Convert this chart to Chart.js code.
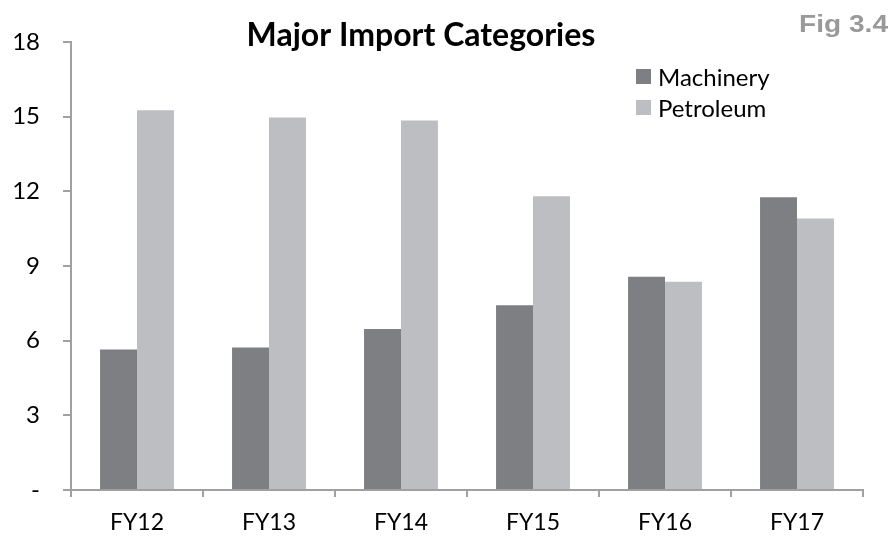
<!DOCTYPE html>
<html>
<head>
<meta charset="utf-8">
<script src="https://cdn.jsdelivr.net/npm/chart.js@4.4.0/dist/chart.umd.min.js"></script>
<style>
  html, body { margin: 0; padding: 0; background: #fff; }
  #wrap { width: 890px; height: 537px; }
</style>
</head>
<body>
<div id="wrap"><canvas id="myChart"></canvas></div>
<script>
const years = ["FY12", "FY13", "FY14", "FY15", "FY16", "FY17"];
const machinery = [5.65, 5.73, 6.47, 7.42, 8.57, 11.76];
const petroleum = [15.26, 14.97, 14.85, 11.8, 8.37, 10.91];
const yTicks = [0, 3, 6, 9, 12, 15, 18];

const FONT = "Lato, 'Open Sans', sans-serif";
const AXIS_GREY = "#a0a0a0";

// title, fig number and legend are painted on top of the chart
const overlay = {
  id: "overlay",
  afterDraw(chart) {
    const ctx = chart.ctx;
    ctx.save();
    ctx.fillStyle = "#000";
    ctx.font = "bold 32px " + FONT;
    ctx.textAlign = "center";
    ctx.textBaseline = "alphabetic";
    ctx.fillText("Major Import Categories", 421, 46);

    // fig number looks a bit stretched in the original
    ctx.save();
    ctx.fillStyle = "#999999";
    ctx.font = "bold 24px 'Liberation Sans', Arial, sans-serif";
    ctx.textAlign = "right";
    ctx.translate(888, 32);
    ctx.scale(1.17, 1);
    ctx.fillText("Fig 3.4", 0, 0);
    ctx.restore();

    ctx.textAlign = "left";
    ctx.font = "24px " + FONT;
    chart.data.datasets.forEach((ds, i) => {
      const y = 77 + i * 31;
      ctx.fillStyle = ds.backgroundColor;
      ctx.fillRect(636, y - 8, 15, 15);
      ctx.fillStyle = "#000";
      ctx.textBaseline = "middle";
      ctx.fillText(ds.label, 658, y + 1);
    });
    ctx.restore();
  },
};

new Chart(document.getElementById("myChart"), {
  type: "bar",
  data: {
    labels: years,
    datasets: [
      { label: "Machinery", data: machinery, backgroundColor: "#7e7f83" },
      { label: "Petroleum", data: petroleum, backgroundColor: "#bdbec2" },
    ],
  },
  options: {
    responsive: true,
    maintainAspectRatio: false,
    animation: false,
    categoryPercentage: 0.56,
    barPercentage: 1.0,
    layout: { padding: { top: 42, right: 27, left: 0, bottom: 0 } },
    plugins: {
      legend: { display: false },
      title: { display: false },
      tooltip: { enabled: false },
    },
    scales: {
      x: {
        offset: true,
        grid: {
          offset: true,
          drawOnChartArea: false,
          drawTicks: true,
          tickLength: 7,
          color: AXIS_GREY,
          lineWidth: 2,
        },
        border: { color: AXIS_GREY, width: 2 },
        ticks: { color: "#000", font: { family: FONT, size: 23 }, padding: 12 },
        afterFit: (s) => { s.height = 47; },
      },
      y: {
        min: 0,
        max: 18,
        afterBuildTicks: (s) => { s.ticks = yTicks.map((v) => ({ value: v })); },
        grid: {
          drawOnChartArea: false,
          drawTicks: true,
          tickLength: 8,
          color: AXIS_GREY,
          lineWidth: 2,
        },
        border: { color: AXIS_GREY, width: 2 },
        ticks: {
          color: "#000",
          font: { family: FONT, size: 24 },
          padding: 23,
          callback: (v) => (v === 0 ? "-" : v),
        },
        afterFit: (s) => { s.width = 71; },
      },
    },
  },
  plugins: [overlay],
});
</script>
</body>
</html>
